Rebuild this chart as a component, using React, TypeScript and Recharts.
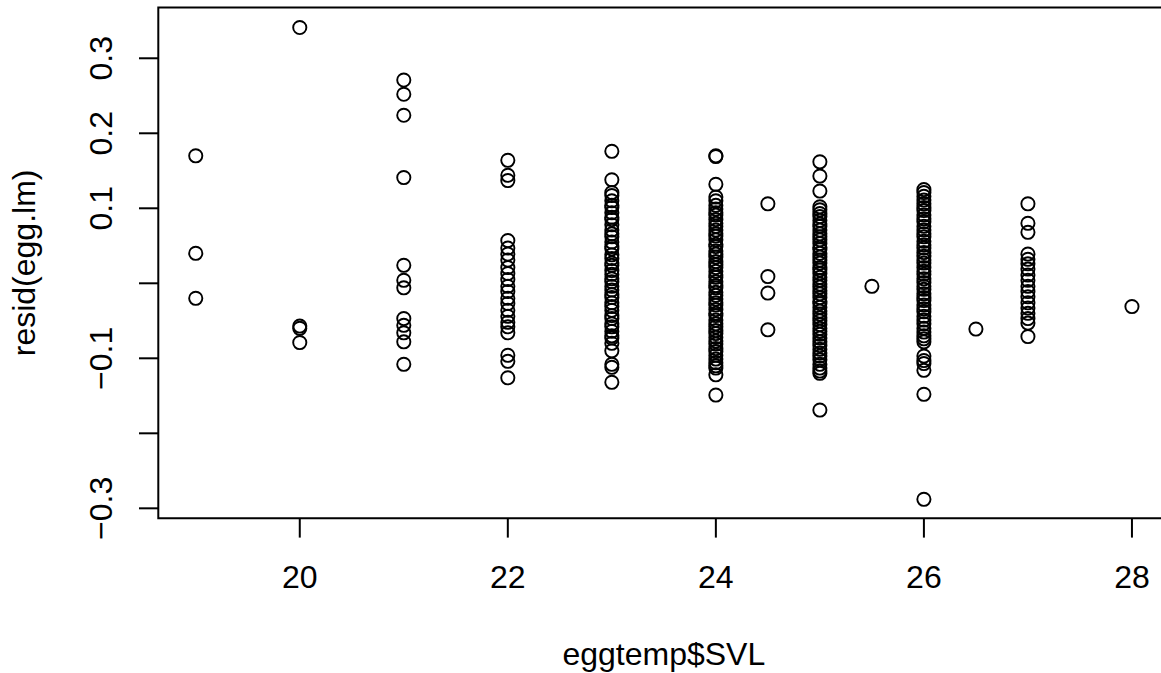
import {
  ScatterChart,
  Scatter,
  XAxis,
  YAxis,
  ReferenceArea,
  Label,
} from "recharts";

// residuals of egg.lm, grouped by snout-vent length
const svl19 = [0.170, 0.040, -0.020];
const svl20 = [0.341, -0.057, -0.060, -0.079];
const svl21 = [0.271, 0.252, 0.224, 0.141, 0.024, 0.004, -0.006, -0.047, -0.056, -0.066, -0.078, -0.108];
const svl22 = [
  0.164, 0.144, 0.137, 0.057, 0.047, 0.039, 0.031, 0.021, 0.013, 0.005, -0.004, -0.011,
  -0.020, -0.027, -0.036, -0.044, -0.052, -0.058, -0.066, -0.096, -0.104, -0.126,
];
const svl23 = [
  0.176, 0.138, 0.121, 0.117, 0.110, 0.104, 0.101, 0.094, 0.088, 0.085, 0.078, 0.071,
  0.066, 0.062, 0.055, 0.049, 0.046, 0.038, 0.033, 0.027, 0.024, 0.017, 0.012, 0.006,
  0.002, -0.004, -0.009, -0.015, -0.019, -0.026, -0.031, -0.036, -0.043, -0.047, -0.054,
  -0.058, -0.064, -0.070, -0.073, -0.080, -0.090, -0.108, -0.112, -0.132,
];
const svl24 = [
  0.170, 0.169, 0.132, 0.115, 0.110, 0.104, 0.099, 0.094, 0.091, 0.085, 0.080, 0.076,
  0.071, 0.066, 0.063, 0.058, 0.052, 0.049, 0.043, 0.039, 0.035, 0.029, 0.025, 0.021,
  0.016, 0.011, 0.008, 0.002, -0.003, -0.006, -0.012, -0.016, -0.021, -0.026, -0.029,
  -0.035, -0.040, -0.043, -0.049, -0.054, -0.058, -0.063, -0.067, -0.072, -0.077, -0.081,
  -0.087, -0.091, -0.096, -0.101, -0.106, -0.110, -0.113, -0.122, -0.149,
];
const svl24_5 = [0.106, 0.009, -0.013, -0.062];
const svl25 = [
  0.162, 0.143, 0.123, 0.102, 0.098, 0.093, 0.089, 0.084, 0.079, 0.076, 0.071, 0.066,
  0.062, 0.058, 0.053, 0.048, 0.045, 0.040, 0.035, 0.031, 0.027, 0.021, 0.018, 0.013,
  0.008, 0.004, -0.001, -0.005, -0.010, -0.014, -0.019, -0.024, -0.027, -0.032, -0.037,
  -0.041, -0.046, -0.050, -0.055, -0.060, -0.064, -0.068, -0.073, -0.078, -0.083, -0.088,
  -0.093, -0.097, -0.102, -0.108, -0.113, -0.117, -0.120, -0.169,
];
const svl25_5 = [-0.004];
const svl26 = [
  0.125, 0.121, 0.116, 0.111, 0.106, 0.101, 0.097, 0.091, 0.086, 0.082, 0.076, 0.071,
  0.066, 0.062, 0.056, 0.051, 0.047, 0.041, 0.036, 0.031, 0.027, 0.021, 0.016, 0.012,
  0.006, 0.001, -0.004, -0.008, -0.014, -0.019, -0.023, -0.029, -0.034, -0.038, -0.044,
  -0.049, -0.054, -0.060, -0.065, -0.070, -0.074, -0.078, -0.097, -0.103, -0.107, -0.116,
  -0.148, -0.288,
];
const svl26_5 = [-0.061];
const svl27 = [
  0.106, 0.080, 0.068, 0.039, 0.032, 0.026, 0.019, 0.011, 0.004, -0.004, -0.011, -0.018,
  -0.026, -0.033, -0.040, -0.047, -0.053, -0.071,
];
const svl28 = [-0.031];

const groups = [
  { svl: 19, resid: svl19 },
  { svl: 20, resid: svl20 },
  { svl: 21, resid: svl21 },
  { svl: 22, resid: svl22 },
  { svl: 23, resid: svl23 },
  { svl: 24, resid: svl24 },
  { svl: 24.5, resid: svl24_5 },
  { svl: 25, resid: svl25 },
  { svl: 25.5, resid: svl25_5 },
  { svl: 26, resid: svl26 },
  { svl: 26.5, resid: svl26_5 },
  { svl: 27, resid: svl27 },
  { svl: 28, resid: svl28 },
];

const xTicks = [20, 22, 24, 26, 28];
const yTicks = [-0.3, -0.2, -0.1, 0, 0.1, 0.2, 0.3];
// R leaves out labels that would collide
const yTickLabels = ["\u22120.3", "", "\u22120.1", "", "0.1", "0.2", "0.3"];

const X_DOMAIN: [number, number] = [18.64, 28.36];
const Y_DOMAIN: [number, number] = [-0.3133, 0.3677];

const FONT = '"Liberation Sans", Arial, Helvetica, sans-serif';
const FONT_SIZE = 32;
const LINE = 38.6; // height of one margin line
const PLOT_LEFT = 158.3;
const PLOT_TOP = 7.5;
const PLOT_BOTTOM = 518.3;
const CHART_W = 1180;
const CHART_H = 673;

const points = groups.flatMap((g) => g.resid.map((r) => ({ svl: g.svl, resid: r })));

const OpenCircle = (props: any) => (
  <circle cx={props.cx} cy={props.cy} r={6.6} fill="none" stroke="#000" strokeWidth={1.9} />
);

const YTick = (props: any) => {
  const label = yTickLabels[props.index];
  if (!label) return null;
  const bx = PLOT_LEFT - 1.2 * LINE;
  return (
    <text
      x={bx}
      y={props.y}
      transform={`rotate(-90 ${bx} ${props.y})`}
      textAnchor="middle"
      fontFamily={FONT}
      fontSize={FONT_SIZE}
      fill="#000"
    >
      {label}
    </text>
  );
};

const XTick = (props: any) => (
  <text
    x={props.x}
    y={PLOT_BOTTOM + 1.8 * LINE}
    textAnchor="middle"
    fontFamily={FONT}
    fontSize={FONT_SIZE}
    fill="#000"
  >
    {props.payload.value}
  </text>
);

const XTitle = (props: any) => {
  const vb = props.viewBox;
  return (
    <text
      x={vb.x + vb.width / 2}
      y={PLOT_BOTTOM + 3.8 * LINE}
      textAnchor="middle"
      fontFamily={FONT}
      fontSize={FONT_SIZE}
      fill="#000"
    >
      eggtemp$SVL
    </text>
  );
};

const YTitle = (props: any) => {
  const vb = props.viewBox;
  const bx = PLOT_LEFT - 3.2 * LINE;
  const cy = vb.y + vb.height / 2;
  return (
    <text
      x={bx}
      y={cy}
      transform={`rotate(-90 ${bx} ${cy})`}
      textAnchor="middle"
      fontFamily={FONT}
      fontSize={FONT_SIZE}
      fill="#000"
    >
      resid(egg.lm)
    </text>
  );
};

export default function App() {
  return (
    <div
      style={{
        position: "fixed",
        left: 0,
        top: 0,
        width: 1161,
        height: 673,
        overflow: "hidden",
        background: "#fff",
      }}
    >
      <ScatterChart
        width={CHART_W}
        height={CHART_H}
        margin={{ top: PLOT_TOP, right: 10.6, bottom: CHART_H - PLOT_BOTTOM - 60, left: 0 }}
      >
        <XAxis
          type="number"
          dataKey="svl"
          domain={X_DOMAIN}
          allowDataOverflow
          ticks={xTicks}
          height={60}
          axisLine={false}
          tickSize={19.3}
          tickLine={{ stroke: "#000", strokeWidth: 2 }}
          tick={<XTick />}
        >
          <Label content={<XTitle />} />
        </XAxis>
        <YAxis
          type="number"
          dataKey="resid"
          domain={Y_DOMAIN}
          allowDataOverflow
          ticks={yTicks}
          width={PLOT_LEFT}
          axisLine={false}
          tickSize={19.3}
          tickLine={{ stroke: "#000", strokeWidth: 2 }}
          tick={<YTick />}
          interval={0}
        >
          <Label content={<YTitle />} />
        </YAxis>
        <ReferenceArea
          x1={X_DOMAIN[0]}
          x2={X_DOMAIN[1]}
          y1={Y_DOMAIN[0]}
          y2={Y_DOMAIN[1]}
          fill="none"
          stroke="#000"
          strokeWidth={2}
          ifOverflow="visible"
        />
        <Scatter data={points} shape={<OpenCircle />} isAnimationActive={false} />
      </ScatterChart>
    </div>
  );
}
